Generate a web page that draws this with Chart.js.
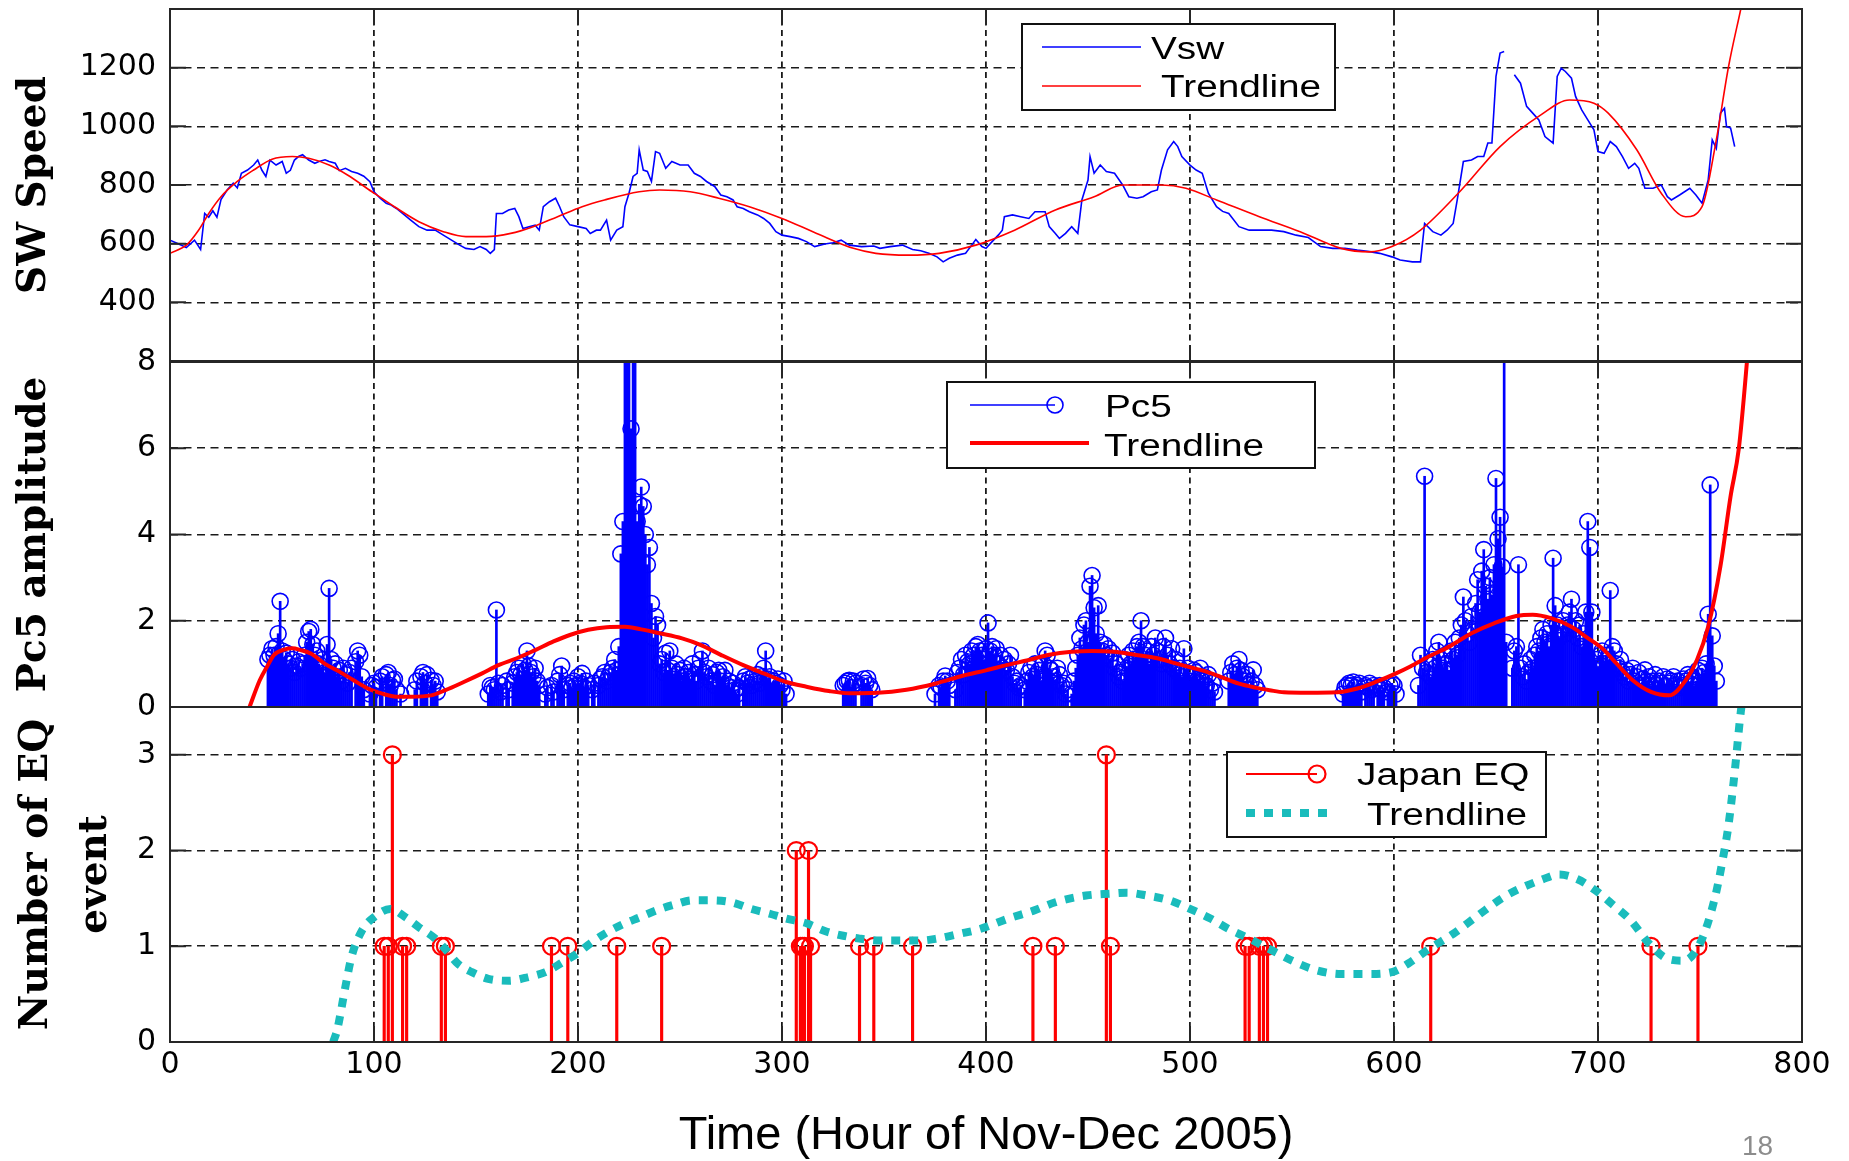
<!DOCTYPE html>
<html>
<head>
<meta charset="utf-8">
<script src="https://cdn.jsdelivr.net/npm/chart.js@4.4.1/dist/chart.umd.min.js"></script>
<style>
html,body{margin:0;padding:0;background:#fff;}
#wrap{position:relative;width:1849px;height:1161px;overflow:hidden;background:#fff;}
#wrap canvas{position:absolute;left:0;top:0;}
#pg{position:absolute;left:1742px;top:1132px;font:28px "Liberation Sans",Arial,sans-serif;color:#8c8c8c;line-height:28px;}
</style>
</head>
<body>
<div id="wrap">
<canvas id="c1" width="1849" height="1161"></canvas>
<canvas id="c2" width="1849" height="1161"></canvas>
<canvas id="c3" width="1849" height="1161"></canvas>
<div id="pg">18</div>
</div>
<script>
// ---------- axes / labels ----------
const hourTicks = [0,100,200,300,400,500,600,700,800];
const swTicks = [400,600,800,1000,1200];
const pc5Ticks = [0,2,4,6,8];
const eqTicks = [0,1,2,3];
const xTitle = 'Time (Hour of Nov-Dec 2005)';
const swTitle = 'SW Speed';
const pc5Title = 'Pc5 amplitude';
const eqTitle = ['Number of EQ','event'];

// ---------- SW speed (hour, km/s) ----------
const vswPoints = [[0,612],[4,600],[8,587],[12,612],[15,580],[17,703],[19,690],[21,712],[23,690],[25,750],[28,783],[31,806],[33,790],[35,840],[38,851],[41,868],[43,885],[45,851],[47,829],[49,885],[52,868],[55,880],[57,840],[59,850],[61,885],[63,897],[65,903],[68,885],[71,874],[73,880],[76,886],[78,880],[81,874],[83,849],[86,857],[89,846],[92,840],[95,830],[98,811],[100,777],[103,755],[106,738],[108,733],[111,720],[114,703],[118,680],[122,658],[126,646],[130,646],[134,629],[138,612],[142,595],[145,584],[149,580],[152,590],[155,580],[157,567],[159,580],[160,703],[163,703],[166,715],[169,720],[171,692],[173,652],[176,658],[179,663],[181,646],[183,726],[186,743],[189,755],[191,726],[193,692],[196,664],[200,658],[204,652],[206,635],[209,646],[211,646],[214,680],[216,612],[219,646],[222,658],[223,726],[225,772],[227,829],[229,840],[230,920],[232,851],[234,846],[236,812],[238,914],[240,908],[243,857],[246,880],[250,868],[254,868],[257,840],[260,829],[263,812],[267,795],[270,766],[273,760],[276,749],[278,726],[281,720],[284,709],[288,698],[291,686],[294,669],[297,641],[300,629],[304,624],[308,618],[312,607],[316,590],[321,599],[325,603],[329,612],[333,595],[339,590],[345,592],[348,584],[353,590],[359,595],[364,580],[368,576],[372,567],[376,555],[379,538],[382,550],[386,561],[390,567],[393,595],[395,614],[398,590],[400,584],[403,607],[406,629],[408,646],[409,692],[413,698],[417,692],[421,686],[424,709],[429,709],[431,658],[434,635],[436,618],[439,635],[442,658],[445,635],[447,749],[450,817],[451,897],[453,840],[456,868],[459,846],[463,840],[467,800],[470,760],[474,755],[477,760],[481,777],[484,783],[486,851],[489,920],[492,948],[494,931],[496,897],[500,868],[503,851],[506,840],[509,772],[513,726],[516,710],[519,703],[524,658],[529,646],[534,646],[540,646],[546,641],[552,629],[558,621],[564,590],[570,584],[576,584],[582,578],[588,573],[593,567],[599,555],[603,544],[609,538],[613,538],[615,669],[619,641],[623,629],[626,646],[629,669],[631,749],[634,880],[638,885],[641,897],[644,897],[646,943],[648,943],[650,1170],[652,1250],[654,1255],[656,null],[659,1176],[662,1147],[665,1068],[668,1045],[671,1022],[674,965],[676,954],[678,943],[680,1170],[682,1198],[684,1187],[687,1164],[689,1102],[692,1056],[695,1022],[698,988],[700,914],[703,908],[706,948],[709,931],[712,897],[715,857],[718,874],[720,857],[723,789],[727,789],[731,800],[734,760],[736,749],[740,766],[745,789],[748,766],[751,738],[754,817],[756,954],[758,925],[760,1045],[762,1062],[763,999],[765,994],[767,931]];
const swTrend = [[0,567],[8,595],[14,646],[19,703],[25,760],[33,812],[41,851],[50,888],[60,897],[68,891],[78,868],[87,834],[99,777],[110,726],[122,675],[134,641],[145,624],[155,624],[167,635],[178,658],[190,692],[202,726],[213,749],[230,777],[240,783],[255,777],[269,755],[284,726],[300,686],[317,635],[335,584],[346,567],[362,561],[377,567],[395,595],[414,646],[434,715],[453,760],[467,800],[486,800],[498,789],[513,749],[534,692],[554,641],[574,584],[588,572],[599,590],[613,646],[633,783],[652,931],[672,1039],[686,1090],[698,1079],[705,1045],[719,920],[731,772],[743,692],[751,726],[758,954],[764,1204],[770,1400],[773,1500]];

// ---------- Pc5 amplitude: hourly values per segment (null = no sample) ----------
const pc5Starts = [48,98,120,156,184,216,330,375,519,575,612];
const pc5Seg1 = [1.1,1.2,1.35,1.2,1.4,1.7,2.45,1.3,1.1,1.25,1.0,0.9,1.1,0.8,0.95,1.05,0.9,1.0,1.2,1.5,1.75,1.8,1.45,1.2,1.3,1.0,0.9,1.1,0.8,1.45,2.75,1.1,0.9,1.0,0.7,0.85,0.6,0.9,0.75,0.55,0.8,0.9,null,1.05,1.3,1.2,0.7,0.4];
const pc5Seg2 = [0.3,0.5,0.55,0.45,null,0.6,0.7,null,0.75,0.8,0.5,0.62,0.65,0.4,null,0.3];
const pc5Seg3 = [0.4,0.6,null,0.7,0.8,0.55,0.75,null,0.62,0.5,0.6,0.35];
const pc5Seg4 = [0.3,0.5,0.45,0.4,2.25,0.55,0.35,0.5,null,0.6,0.4,null,0.55,0.7,0.8,0.9,0.75,1.0,0.85,1.3,0.95,0.8,0.7,0.9,0.6,0.5];
const pc5Seg5 = [0.3,0.45,null,0.5,0.35,null,0.6,0.75,0.95,0.4,null,0.5,0.55,0.45,0.6,0.5,0.7,0.55,0.78,0.45,0.6,0.5,null,0.4,0.55,null,0.5,0.65,0.7,0.8,0.6,0.7];
const pc5Seg6 = [0.8,0.9,1.1,0.85,1.4,3.55,4.3,8.6,9.5,8.8,6.45,9.2,8.4,4.3,4.7,5.1,4.65,4.0,3.3,3.7,2.4,1.6,2.1,1.9,1.0,1.1,0.8,1.25,0.85,1.3,0.9,0.7,1.0,0.75,0.85,0.6,0.9,0.7,0.8,0.65,1.0,0.75,0.6,0.9,1.1,1.3,0.8,0.7,0.9,0.6,0.75,0.5,0.8,0.85,0.6,0.7,0.85,0.5,0.6,0.45,0.55,0.4,0.3,0.45,null,0.6,0.7,0.55,0.65,0.5,0.7,0.6,0.75,0.55,0.7,0.9,1.3,0.65,0.7,0.5,0.6,0.55,0.65,0.5,0.4,0.6,0.3];
const pc5Seg7 = [0.5,0.55,0.6,0.62,0.45,0.6,0.55,null,null,0.5,0.65,0.55,0.66,0.5,0.4];
const pc5Seg8 = [0.3,null,0.5,0.45,0.6,0.72,0.6,0.5,null,null,0.4,0.8,0.9,1.1,0.75,1.2,1.05,1.0,1.3,1.2,1.4,1.45,1.3,1.2,1.1,1.35,1.95,1.3,1.4,1.2,1.35,1.0,1.2,0.9,1.1,0.85,1.0,1.2,0.7,0.55,0.6,0.45,0.5,null,0.4,0.6,0.8,0.9,0.7,1.0,0.75,0.85,0.6,1.0,1.3,1.2,0.9,0.85,0.7,0.6,0.9,0.75,0.5,0.55,0.3,0.4,null,0.3,0.6,0.9,1.2,1.6,1.35,1.9,2.0,1.5,2.8,3.05,2.3,1.7,2.35,1.5,1.3,1.45,1.2,1.35,1.1,1.25,0.9,1.0,0.7,0.8,0.6,1.1,0.9,1.2,1.0,1.3,1.1,1.4,1.5,2.0,1.4,1.2,1.3,1.0,1.4,1.2,1.6,1.3,1.1,1.0,1.4,1.6,1.2,1.0,1.35,0.9,1.1,0.8,0.9,0.7,1.35,0.8,0.9,0.6,0.7,0.85,0.8,0.65,0.9,0.6,0.7,0.5,0.75,0.4,0.55,0.35];
const pc5Seg9 = [0.6,0.8,1.0,0.75,0.9,1.1,0.85,0.7,0.6,0.75,0.5,0.6,0.86,0.5,0.4];
const pc5Seg10 = [0.3,0.45,0.5,0.55,0.5,0.58,0.45,0.5,0.55,0.35,null,0.5,0.45,0.55,0.4,0.5,null,0.45,0.5,0.4,0.45,null,0.35,0.5,0.55,0.5,0.3];
const pc5Seg11 = [0.5,1.2,0.9,5.35,0.8,1.0,0.7,1.1,0.9,1.3,1.5,1.1,0.9,1.2,1.0,0.85,1.3,1.1,1.5,1.2,1.6,1.9,2.55,2.0,1.7,1.5,2.1,1.8,2.4,2.95,2.2,3.15,3.65,2.8,2.5,3.0,2.6,3.3,5.3,3.9,4.4,3.25,9.5,1.5,null,null,0.9,1.3,1.4,3.3,0.9,0.7,1.0,0.6,0.8,1.1,0.9,1.2,1.4,1.3,1.6,1.8,1.5,1.7,1.4,1.9,3.45,2.35,1.9,1.6,1.8,2.0,1.7,1.9,2.2,2.5,1.8,2.0,1.6,1.9,1.4,1.7,2.2,4.3,3.7,2.2,1.3,1.1,0.9,1.2,1.3,1.0,1.2,1.1,2.7,1.4,1.3,1.0,0.9,1.1,0.8,0.7,0.85,0.6,0.75,0.9,0.6,0.7,0.8,0.5,0.65,0.86,0.6,0.7,0.5,0.6,0.75,0.5,0.6,0.55,0.7,0.5,0.65,0.55,0.6,0.7,0.5,0.6,0.45,0.5,0.65,0.6,0.75,0.55,0.7,0.5,0.6,0.85,0.7,0.9,0.8,1.0,2.15,5.15,1.65,0.95,0.6];
const pc5Trend = [[39,0],[44,0.62],[47.6,0.94],[51,1.21],[56,1.33],[60,1.36],[64,1.32],[69,1.24],[76,1.0],[83,0.82],[90,0.62],[97,0.43],[104,0.31],[111,0.24],[118,0.24],[128,0.27],[135,0.39],[144,0.58],[153,0.78],[161,0.97],[170,1.13],[179,1.32],[188,1.52],[196,1.67],[205,1.79],[214,1.85],[223,1.86],[231,1.80],[240,1.71],[251,1.59],[260,1.44],[270,1.21],[281,0.97],[291,0.78],[302,0.58],[312,0.47],[323,0.37],[333,0.32],[347,0.33],[361,0.40],[375,0.54],[389,0.73],[400,0.85],[410,0.97],[421,1.09],[431,1.21],[442,1.28],[452,1.30],[463,1.28],[473,1.21],[484,1.13],[493,1.01],[501,0.91],[508,0.82],[515,0.70],[524,0.54],[532,0.45],[539,0.39],[546,0.34],[558,0.33],[572,0.34],[582,0.43],[591,0.58],[601,0.78],[608,0.94],[617,1.17],[627,1.40],[638,1.71],[649,1.94],[660,2.11],[668,2.14],[677,2.06],[687,1.86],[694,1.63],[702,1.36],[709,1.01],[717,0.62],[726,0.35],[735,0.27],[743,0.62],[748.5,1.09],[754,1.86],[760,3.26],[765,4.89],[769,5.98],[773,8.0],[774,8.6]];

// ---------- Japan earthquakes ----------
const eqHours = [105,107,109,114,116,133,135,187,195,219,241,307,309,310,311,313,314,338,345,364,423,434,459,461,527,529,534,536,538,618,726,749];
const eqCounts = [1,1,3,1,1,1,1,1,1,1,1,2,1,1,1,2,1,1,1,1,1,1,3,1,1,1,1,1,1,1,1,1];
const eqTrend = [[80,0],[82,0.13],[86,0.58],[89,0.89],[94,1.16],[101,1.32],[108,1.39],[115,1.31],[122,1.20],[130,1.08],[135,0.97],[141,0.82],[148,0.73],[156,0.66],[166,0.64],[176,0.68],[184,0.73],[193,0.84],[200,0.93],[206,1.03],[213,1.13],[222,1.23],[230,1.30],[239,1.38],[248,1.44],[256,1.48],[266,1.48],[275,1.46],[285,1.39],[294,1.34],[302,1.29],[312,1.24],[321,1.16],[330,1.11],[338,1.08],[348,1.06],[360,1.06],[368,1.06],[376,1.08],[387,1.13],[397,1.18],[411,1.29],[423,1.37],[434,1.46],[449,1.53],[461,1.55],[469,1.56],[479,1.53],[490,1.48],[498,1.41],[510,1.29],[519,1.18],[529,1.08],[539,0.97],[551,0.84],[562,0.75],[574,0.71],[588,0.71],[599,0.73],[607,0.82],[617,0.97],[629,1.13],[641,1.32],[655,1.53],[673,1.70],[681,1.75],[690,1.70],[699,1.58],[707,1.44],[716,1.27],[725,1.03],[734,0.87],[742,0.85],[750,1.03],[757,1.48],[761,1.89],[764,2.27],[767,2.82],[770,3.45],[771,3.6]];

// ---------- build data ----------
const pc5SegList = [pc5Seg1,pc5Seg2,pc5Seg3,pc5Seg4,pc5Seg5,pc5Seg6,pc5Seg7,pc5Seg8,pc5Seg9,pc5Seg10,pc5Seg11];
const pc5Data = [];
pc5SegList.forEach((seg, s) => seg.forEach((v, i) => { if (v !== null) pc5Data.push({x: pc5Starts[s] + i, y: v}); }));
const pairs = arr => arr.map(p => ({x: p[0], y: p[1]}));
const eqData = eqHours.map((h, i) => ({x: h, y: eqCounts[i]}));

// ---------- styles ----------
const BLUE = '#0000ff', RED = '#ff0000', TEAL = 'rgb(26,188,188)';
const TICK_FONT = {family: '"DejaVu Sans", Verdana, sans-serif', size: 30};
const YT_FONT = {family: '"DejaVu Serif", serif', size: 39, weight: 'bold', lineHeight: 1.5};
const GRID_COLOR = '#1a1a1a';

Chart.defaults.font.family = '"DejaVu Sans", sans-serif';

function xScale(showLabels) {
  return {
    type: 'linear', min: 0, max: 800, offset: false,
    afterBuildTicks: s => { s.ticks = hourTicks.map(v => ({value: v})); },
    grid: {color: GRID_COLOR, lineWidth: 1.8, drawTicks: false, offset: false},
    border: {display: false, dash: [6, 4.5]},
    ticks: {display: showLabels, font: TICK_FONT, color: '#000', padding: 5, maxRotation: 0, autoSkip: false, callback: v => String(v)},
    title: showLabels ? {display: true, text: xTitle, color: '#000',
      font: {family: '"Liberation Sans", Arial, sans-serif', size: 47, lineHeight: 1}, padding: {top: 0, bottom: 1}} : {display: false},
    afterFit: s => { s.height = showLabels ? 119 : 0; }
  };
}
function yScale(min, max, ticks, title, padTop) {
  return {
    type: 'linear', min: min, max: max,
    afterBuildTicks: s => { s.ticks = ticks.map(v => ({value: v})); },
    grid: {color: GRID_COLOR, lineWidth: 1.6, drawTicks: false},
    border: {display: false, dash: [8, 5.5]},
    ticks: {font: TICK_FONT, color: '#000', padding: 14, callback: v => String(v)},
    title: {display: true, text: title, color: '#000', font: YT_FONT, padding: {top: padTop, bottom: 0}},
    afterFit: s => { s.width = 170; s.paddingTop = 0; s.paddingBottom = 0; }
  };
}

// frame (box + inward ticks) and MATLAB-style legend box
const panelFrame = {
  id: 'panelFrame',
  afterDraw(chart, args, opts) {
    const ctx = chart.ctx, a = chart.chartArea, xs = chart.scales.x, ys = chart.scales.y;
    ctx.save();
    ctx.setLineDash([]);
    ctx.strokeStyle = '#262626';
    ctx.lineWidth = 2;
    ctx.beginPath();
    xs.ticks.forEach(t => {
      const p = xs.getPixelForValue(t.value);
      ctx.moveTo(p, a.top); ctx.lineTo(p, a.top + 16);
      ctx.moveTo(p, a.bottom); ctx.lineTo(p, a.bottom - 16);
    });
    ys.ticks.forEach(t => {
      const p = ys.getPixelForValue(t.value);
      ctx.moveTo(a.left, p); ctx.lineTo(a.left + 16, p);
      ctx.moveTo(a.right, p); ctx.lineTo(a.right - 16, p);
    });
    ctx.stroke();
    ctx.strokeRect(a.left, a.top, a.right - a.left, a.bottom - a.top);
    const L = opts.legend;
    if (L) {
      ctx.fillStyle = '#fff';
      ctx.fillRect(L.box[0], L.box[1], L.box[2], L.box[3]);
      ctx.strokeStyle = '#111';
      ctx.lineWidth = 2;
      ctx.strokeRect(L.box[0], L.box[1], L.box[2], L.box[3]);
      L.rows.forEach(r => {
        const ds = chart.data.datasets[r.ds];
        const marker = r.marker !== undefined;
        ctx.save();
        ctx.strokeStyle = marker ? ds.pointBorderColor : ds.borderColor;
        ctx.lineWidth = marker ? ds.pointBorderWidth : ds.borderWidth;
        ctx.setLineDash(ds.borderDash || []);
        ctx.lineCap = 'butt';
        ctx.beginPath();
        ctx.moveTo(r.x1, r.y); ctx.lineTo(r.x2, r.y);
        ctx.stroke();
        if (marker) {
          ctx.setLineDash([]);
          ctx.beginPath();
          ctx.arc(r.marker, r.y, ds.pointRadius, 0, Math.PI * 2);
          ctx.stroke();
        }
        ctx.fillStyle = '#000';
        ctx.font = '31px "Liberation Sans", Arial, sans-serif';
        ctx.textBaseline = 'alphabetic';
        ctx.textAlign = 'left';
        ctx.translate(r.tx, r.ty);
        ctx.scale(1.25, 1);
        ctx.fillText(ds.label, 0, 0);
        ctx.restore();
      });
    }
    ctx.restore();
  }
};

function baseOptions(top, bottom, showX, y, legend) {
  return {
    responsive: false, animation: false, events: [], devicePixelRatio: 1,
    layout: {padding: {left: 0, right: 47, top: top, bottom: bottom}},
    scales: {x: xScale(showX), y: y},
    plugins: {legend: {display: false}, tooltip: {enabled: false}, panelFrame: {legend: legend}}
  };
}

// ---------- top: SW speed ----------
new Chart(document.getElementById('c1'), {
  type: 'scatter',
  data: {datasets: [
    {label: 'Trendline', data: pairs(swTrend), showLine: true, borderColor: RED, borderWidth: 1.6, pointRadius: 0, cubicInterpolationMode: 'monotone', clip: 0, order: 0},
    {label: 'Vsw', data: pairs(vswPoints), showLine: true, borderColor: BLUE, borderWidth: 1.6, pointRadius: 0, spanGaps: false, tension: 0, clip: 0, order: 1}
  ]},
  options: baseOptions(9, 800, false, yScale(200, 1400, swTicks, swTitle, 6), {
    box: [1022, 24, 313, 86],
    rows: [
      {ds: 1, y: 47, x1: 1042, x2: 1141, tx: 1151, ty: 59},
      {ds: 0, y: 86, x1: 1042, x2: 1141, tx: 1161, ty: 97}
    ]}),
  plugins: [panelFrame]
});

// ---------- middle: Pc5 ----------
new Chart(document.getElementById('c2'), {
  type: 'scatter',
  data: {datasets: [
    {label: 'Trendline', data: pairs(pc5Trend), showLine: true, borderColor: RED, borderWidth: 4, pointRadius: 0, cubicInterpolationMode: 'monotone', clip: 0, order: 0},
    {label: 'Pc5', data: pc5Data, showLine: false, borderColor: BLUE, pointRadius: 8, pointBorderColor: BLUE, pointBackgroundColor: 'rgba(0,0,0,0)', pointBorderWidth: 1.6, clip: 0, order: 1},
    {label: 'Pc5 stems', type: 'bar', data: pc5Data, backgroundColor: BLUE, borderWidth: 0, barThickness: 2, clip: 0, order: 2}
  ]},
  options: baseOptions(362, 454, false, yScale(0, 8, pc5Ticks, pc5Title, 6), {
    box: [947, 382, 368, 86],
    rows: [
      {ds: 1, y: 405, x1: 970, x2: 1055, marker: 1055, tx: 1105, ty: 417},
      {ds: 0, y: 443, x1: 970, x2: 1089, tx: 1104, ty: 456}
    ]}),
  plugins: [panelFrame]
});

// ---------- bottom: EQ ----------
new Chart(document.getElementById('c3'), {
  type: 'scatter',
  data: {datasets: [
    {label: 'Trendline', data: pairs(eqTrend), showLine: true, borderColor: TEAL, borderWidth: 8, borderDash: [9, 9], borderCapStyle: 'butt', pointRadius: 0, cubicInterpolationMode: 'monotone', clip: 0, order: 0},
    {label: 'Japan EQ', data: eqData, showLine: false, borderColor: RED, pointRadius: 8.5, pointBorderColor: RED, pointBackgroundColor: 'rgba(0,0,0,0)', pointBorderWidth: 2.2, clip: 0, order: 1},
    {label: 'EQ stems', type: 'bar', data: eqData, backgroundColor: RED, borderWidth: 0, barThickness: 2.5, clip: 0, order: 2}
  ]},
  options: baseOptions(707, 0, true, yScale(0, 3.5, eqTicks, eqTitle, 8), {
    box: [1227, 752, 319, 85],
    rows: [
      {ds: 1, y: 774, x1: 1246, x2: 1317, marker: 1317, tx: 1357, ty: 785},
      {ds: 0, y: 813, x1: 1246, x2: 1330, tx: 1367, ty: 825}
    ]}),
  plugins: [panelFrame]
});
</script>
</body>
</html>
